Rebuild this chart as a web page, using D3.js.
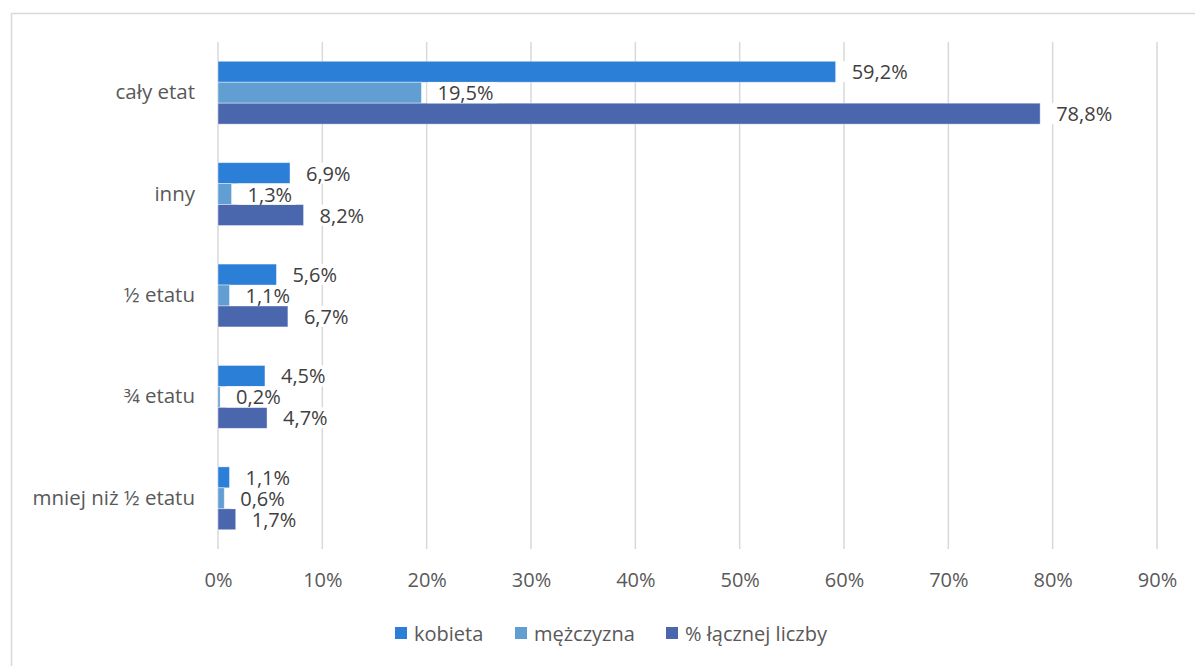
<!DOCTYPE html>
<html>
<head>
<meta charset="utf-8">
<script src="https://cdn.jsdelivr.net/npm/d3@7/dist/d3.min.js"></script>
<style>
  html, body { margin: 0; padding: 0; background: #fff; }
  svg { display: block; font-family: "Open Sans", Lato, sans-serif; }
</style>
</head>
<body>
<svg id="chart" width="1195" height="666"></svg>
<script>
// Employment type categories (top to bottom)
const categories = ["cały etat", "inny", "½ etatu", "¾ etatu", "mniej niż ½ etatu"];
// Series values in percent
const kobieta    = [59.2, 6.9, 5.6, 4.5, 1.1];
const mezczyzna  = [19.5, 1.3, 1.1, 0.2, 0.6];
const lacznie    = [78.8, 8.2, 6.7, 4.7, 1.7];
const seriesNames = ["kobieta", "mężczyzna", "% łącznej liczby"];
const ticks = [0, 10, 20, 30, 40, 50, 60, 70, 80, 90];

const colors = ["#2b7fd7", "#619fd3", "#4a66ad"];
const seriesValues = [kobieta, mezczyzna, lacznie];
const FONT = "'Open Sans', Lato, sans-serif";

const svg = d3.select("#chart");

// chart frame
svg.append("rect")
  .attr("x", 11.5).attr("y", 13.5)
  .attr("width", 1200).attr("height", 700)
  .attr("fill", "none").attr("stroke", "#d9d9d9").attr("stroke-width", 1.5);

const plot = { left: 218, right: 1157, top: 42, bottom: 549 };

const x = d3.scaleLinear().domain([0, 90]).range([plot.left, plot.right]);
const y = d3.scaleBand().domain(categories).range([plot.top, plot.bottom])
  .paddingInner(0.38).paddingOuter(0.19);
const ySub = d3.scaleBand().domain(d3.range(seriesValues.length)).range([0, y.bandwidth()]);

// vertical gridlines
svg.append("g").selectAll("line").data(ticks).join("line")
  .attr("x1", d => x(d)).attr("x2", d => x(d))
  .attr("y1", plot.top).attr("y2", plot.bottom)
  .attr("stroke", "#d9d9d9").attr("stroke-width", 1.5);

// x axis tick labels
const xAxis = d3.axisBottom(x).tickValues(ticks).tickFormat(d => d + "%").tickSize(0).tickPadding(0);
const gx = svg.append("g").attr("transform", `translate(0, ${plot.bottom + 38})`).call(xAxis);
gx.select(".domain").remove();
gx.selectAll("text").attr("fill", "#595959").attr("font-size", 20)
  .attr("font-family", FONT).attr("dy", "0");

// category labels
const yAxis = d3.axisLeft(y).tickSize(0).tickPadding(0);
const gy = svg.append("g").attr("transform", `translate(${plot.left - 23}, 0)`).call(yAxis);
gy.select(".domain").remove();
gy.selectAll("text").attr("fill", "#595959").attr("font-size", 20.5)
  .attr("font-family", FONT);

// bars
const rows = [];
categories.forEach((c, i) => {
  seriesValues.forEach((vals, s) => rows.push({ cat: c, s, v: vals[i] }));
});

const barG = svg.append("g");
barG.selectAll("rect").data(rows).join("rect")
  .attr("x", x(0))
  .attr("y", d => y(d.cat) + ySub(d.s))
  .attr("width", d => x(d.v) - x(0))
  .attr("height", ySub.bandwidth())
  .attr("fill", d => colors[d.s])
  .attr("stroke", "rgba(255,255,255,0.5)").attr("stroke-width", 0.8);

// value labels with white backing
const fmt = v => v.toFixed(1).replace(".", ",") + "%";
const labG = svg.append("g");
const lab = labG.selectAll("g").data(rows).join("g")
  .attr("transform", d => `translate(${x(d.v) + 16}, ${y(d.cat) + ySub(d.s) + ySub.bandwidth() / 2})`);
lab.append("rect").attr("class", "bg");
lab.append("text")
  .attr("dominant-baseline", "central")
  .attr("font-size", 20).attr("fill", "#404040")
  .text(d => fmt(d.v));
lab.each(function() {
  const g = d3.select(this);
  const bb = g.select("text").node().getBBox();
  g.select("rect.bg").attr("x", bb.x - 10).attr("y", bb.y + 3)
    .attr("width", bb.width + 14).attr("height", bb.height - 6).attr("fill", "#fff");
});

// legend
const legendItems = [
  { name: seriesNames[0], x: 395, c: colors[0] },
  { name: seriesNames[1], x: 515, c: colors[1] },
  { name: seriesNames[2], x: 666, c: colors[2] }
];
const lg = svg.append("g").selectAll("g").data(legendItems).join("g")
  .attr("transform", d => `translate(${d.x}, 633)`);
lg.append("rect").attr("x", 0).attr("y", -6).attr("width", 12).attr("height", 12)
  .attr("fill", d => d.c);
lg.append("text").attr("x", 19).attr("dominant-baseline", "central")
  .attr("font-size", 20).attr("fill", "#595959").text(d => d.name);
</script>
</body>
</html>
